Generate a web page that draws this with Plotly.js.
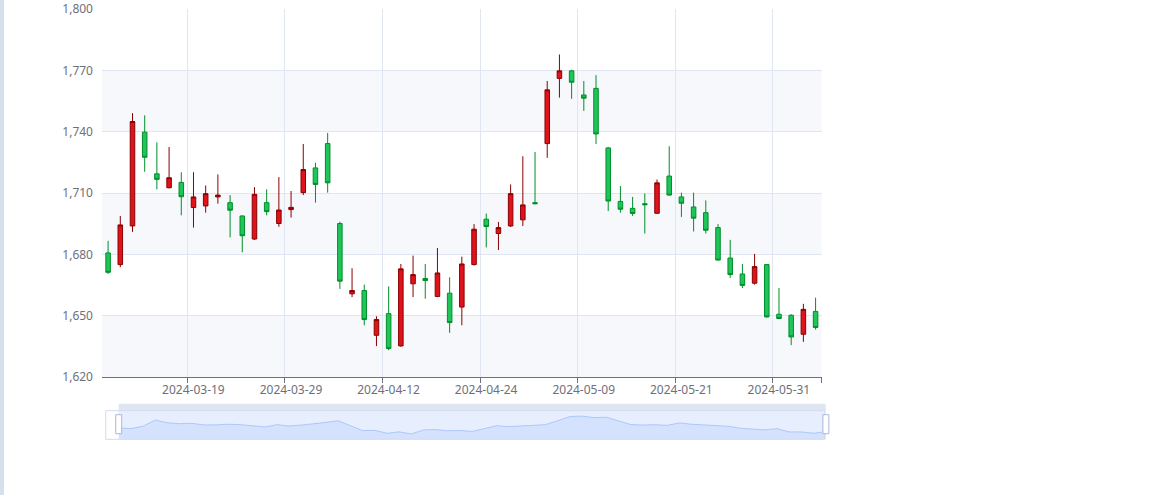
<!DOCTYPE html>
<html>
<head>
<meta charset="utf-8">
<script src="https://cdn.plot.ly/plotly-3.0.1.min.js"></script>
<style>
  html, body { margin: 0; padding: 0; background: #fff; }
  #edge { position: fixed; left: 0; top: 0; width: 4px; height: 100%; background: #d6e0ec; z-index: 5; }
  #chart { width: 1162px; height: 495px; }
</style>
</head>
<body>
<div id="edge"></div>
<div id="chart"></div>
<script>
// trading days shown in the window
var dates = [
  '2024-03-08', '2024-03-11', '2024-03-12', '2024-03-13', '2024-03-14', '2024-03-15', '2024-03-18',
  '2024-03-19', '2024-03-20', '2024-03-21', '2024-03-22', '2024-03-25', '2024-03-26', '2024-03-27',
  '2024-03-28', '2024-03-29', '2024-04-01', '2024-04-02', '2024-04-03', '2024-04-08', '2024-04-09',
  '2024-04-10', '2024-04-11', '2024-04-12', '2024-04-15', '2024-04-16', '2024-04-17', '2024-04-18',
  '2024-04-19', '2024-04-22', '2024-04-23', '2024-04-24', '2024-04-25', '2024-04-26', '2024-04-29',
  '2024-04-30', '2024-05-06', '2024-05-07', '2024-05-08', '2024-05-09', '2024-05-10', '2024-05-13',
  '2024-05-14', '2024-05-15', '2024-05-16', '2024-05-17', '2024-05-20', '2024-05-21', '2024-05-22',
  '2024-05-23', '2024-05-24', '2024-05-27', '2024-05-28', '2024-05-29', '2024-05-30', '2024-05-31',
  '2024-06-03', '2024-06-04', '2024-06-05'
];
var opens = [
  1680.7, 1675.0, 1693.9, 1739.8, 1719.4, 1712.6, 1715.2,
  1702.9, 1703.7, 1708.1, 1705.3, 1698.8, 1687.5, 1705.3,
  1695.1, 1701.9, 1710.2, 1722.3, 1734.2, 1695.1, 1660.7,
  1662.3, 1640.4, 1651.0, 1635.2, 1665.6, 1668.2, 1659.4,
  1661.0, 1654.2, 1675.0, 1697.2, 1690.2, 1693.9, 1696.9,
  1705.3, 1734.2, 1766.1, 1769.8, 1758.0, 1761.2, 1732.1,
  1705.9, 1702.5, 1704.8, 1700.1, 1718.3, 1708.1, 1703.2,
  1700.4, 1693.1, 1678.2, 1670.4, 1665.9, 1675.0, 1650.7,
  1650.2, 1640.9, 1652.1
];
var closes = [
  1671.2, 1694.4, 1745.0, 1727.5, 1716.7, 1717.5, 1708.2,
  1708.1, 1709.7, 1709.0, 1701.6, 1689.1, 1709.4, 1700.9,
  1701.7, 1703.0, 1721.5, 1714.2, 1715.0, 1666.9, 1662.3,
  1648.1, 1648.1, 1633.9, 1672.9, 1670.1, 1667.2, 1670.9,
  1646.6, 1675.3, 1692.3, 1693.6, 1693.1, 1709.7, 1704.2,
  1704.8, 1760.5, 1769.8, 1764.2, 1756.4, 1738.9, 1706.1,
  1702.1, 1700.0, 1704.3, 1715.0, 1709.0, 1705.0, 1697.7,
  1691.8, 1677.2, 1670.1, 1664.8, 1674.0, 1649.4, 1648.6,
  1639.6, 1653.1, 1644.2
];
var lows = [
  1670.4, 1673.7, 1691.0, 1720.4, 1711.8, 1712.3, 1699.1,
  1693.1, 1700.4, 1704.8, 1688.3, 1681.0, 1687.0, 1699.1,
  1693.5, 1698.0, 1709.0, 1705.3, 1710.2, 1663.1, 1659.1,
  1645.3, 1635.1, 1633.1, 1634.8, 1659.1, 1658.3, 1659.1,
  1641.6, 1645.3, 1674.5, 1683.4, 1682.1, 1693.4, 1693.9,
  1704.5, 1727.2, 1756.7, 1756.1, 1750.2, 1734.0, 1701.2,
  1700.4, 1698.8, 1690.2, 1699.8, 1708.7, 1698.3, 1691.2,
  1690.2, 1677.0, 1668.5, 1663.5, 1665.2, 1649.0, 1648.3,
  1635.6, 1637.2, 1643.2
];
var highs = [
  1686.6, 1698.8, 1749.1, 1748.0, 1734.8, 1732.5, 1720.2,
  1720.2, 1713.7, 1719.1, 1709.0, 1699.0, 1712.9, 1711.8,
  1717.8, 1711.0, 1734.0, 1724.8, 1739.4, 1696.0, 1673.2,
  1665.2, 1649.7, 1664.3, 1675.3, 1679.4, 1675.3, 1683.1,
  1668.8, 1678.9, 1694.8, 1700.0, 1695.9, 1714.2, 1728.0,
  1730.1, 1764.8, 1777.8, 1770.3, 1764.8, 1767.7, 1732.5,
  1713.4, 1708.1, 1709.8, 1716.6, 1732.9, 1710.2, 1710.2,
  1706.4, 1694.8, 1687.1, 1675.3, 1680.2, 1675.3, 1663.5,
  1650.7, 1655.8, 1658.8
];
var labelDates = ['2024-03-19', '2024-03-29', '2024-04-12', '2024-04-24', '2024-05-09', '2024-05-21', '2024-05-31'];
var yTicks = [1620, 1650, 1680, 1710, 1740, 1770, 1800];

var idx = dates.map(function (d, i) { return i; });

// category style axis: ticks and grid on the band edge left of each label
var tickPos = [], tickText = [];
labelDates.forEach(function (d) {
  tickPos.push(dates.indexOf(d) - 0.5);
  tickText.push(d);
});
tickPos.push(dates.length - 0.5);
tickText.push('');

var font = { family: 'Noto Sans, Open Sans, sans-serif', size: 12, color: '#6e7079' };

var candles = {
  type: 'candlestick',
  x: idx, open: opens, high: highs, low: lows, close: closes,
  text: dates,
  hoverinfo: 'text+y',
  increasing: { line: { color: '#8a0000', width: 1 }, fillcolor: '#e0121c' },
  decreasing: { line: { color: '#008f28', width: 1 }, fillcolor: '#1ec55a' },
  whiskerwidth: 0,
  xaxis: 'x', yaxis: 'y'
};

// data shadow for the zoom slider (first value dim = open)
var shadow = {
  type: 'scatter', mode: 'lines',
  x: idx, y: opens,
  line: { color: '#8fb0f7', width: 0.6 },
  fill: 'tozeroy', fillcolor: 'rgba(143,176,247,0.2)',
  hoverinfo: 'skip',
  xaxis: 'x2', yaxis: 'y2'
};

var oMin = Math.min.apply(null, opens), oMax = Math.max.apply(null, opens);
var pad = (oMax - oMin) * 0.3;

var shapes = [];
for (var i = 0; i < yTicks.length - 1; i++) {
  if (i % 2 === 0) {
    shapes.push({
      type: 'rect', xref: 'x domain', yref: 'y', x0: 0, x1: 1,
      y0: yTicks[i], y1: yTicks[i + 1],
      fillcolor: 'rgba(210,219,238,0.2)', line: { width: 0 }, layer: 'below'
    });
  }
}
// slider frame, filler, move bar, handles
shapes.push({ type: 'rect', xref: 'paper', yref: 'paper', x0: 0.0230, x1: 0.9970, y0: 0.0016, y1: 0.0680,
  fillcolor: 'rgba(135,175,255,0.2)', line: { width: 0 }, layer: 'below' });
shapes.push({ type: 'rect', xref: 'paper', yref: 'paper', x0: 0.0051, x1: 0.9955, y0: 0.0016, y1: 0.0680,
  fillcolor: 'rgba(0,0,0,0)', line: { color: '#d2dbee', width: 1 } });
shapes.push({ type: 'rect', xref: 'paper', yref: 'paper', x0: 0.0230, x1: 0.9970, y0: 0.0680, y1: 0.0842,
  fillcolor: 'rgba(210,219,238,0.7)', line: { width: 0 } });
shapes.push({ type: 'rect', xref: 'paper', yref: 'paper', x0: 0.0189, x1: 0.0271, y0: 0.0146, y1: 0.0587,
  fillcolor: '#ffffff', line: { color: '#acb8d1', width: 1 } });
shapes.push({ type: 'rect', xref: 'paper', yref: 'paper', x0: 0.9930, x1: 1.0012, y0: 0.0146, y1: 0.0587,
  fillcolor: '#ffffff', line: { color: '#acb8d1', width: 1 } });

var layout = {
  width: 1162, height: 495,
  margin: { l: 102, r: 334, t: 9, b: 55, pad: 0 },
  paper_bgcolor: '#ffffff',
  plot_bgcolor: 'rgba(0,0,0,0)',
  showlegend: false,
  boxgap: 0.47,
  font: font,
  xaxis: {
    domain: [0, 0.9913],
    anchor: 'y',
    range: [-0.5, dates.length - 0.5],
    tickmode: 'array', tickvals: tickPos, ticktext: tickText,
    ticklabelshift: 6,
    ticklabelstandoff: -3,
    ticks: 'outside', ticklen: 5, tickcolor: '#6e7079',
    showline: true, linecolor: '#6e7079', linewidth: 1,
    showgrid: true, gridcolor: '#e0e6f1', gridwidth: 1,
    zeroline: false,
    tickfont: font,
    rangeslider: { visible: false },
    fixedrange: true
  },
  yaxis: {
    domain: [0.1462, 1],
    anchor: 'x',
    range: [yTicks[0], yTicks[yTicks.length - 1] + 0.05],
    tickmode: 'array', tickvals: yTicks,
    tickformat: ',',
    ticks: '', ticklabelstandoff: 8,
    ticklabeloverflow: 'allow',
    showline: false, zeroline: false,
    showgrid: true, gridcolor: '#e0e6f1', gridwidth: 1,
    tickfont: font,
    fixedrange: true
  },
  xaxis2: {
    domain: [0.0230, 0.9970], anchor: 'y2',
    range: [0, dates.length - 1],
    visible: false, fixedrange: true
  },
  yaxis2: {
    domain: [0.0016, 0.0680], anchor: 'x2',
    range: [oMin - pad, oMax + pad],
    visible: false, fixedrange: true
  },
  shapes: shapes
};

Plotly.newPlot('chart', [candles, shadow], layout, { displayModeBar: false, responsive: false });
</script>
</body>
</html>
